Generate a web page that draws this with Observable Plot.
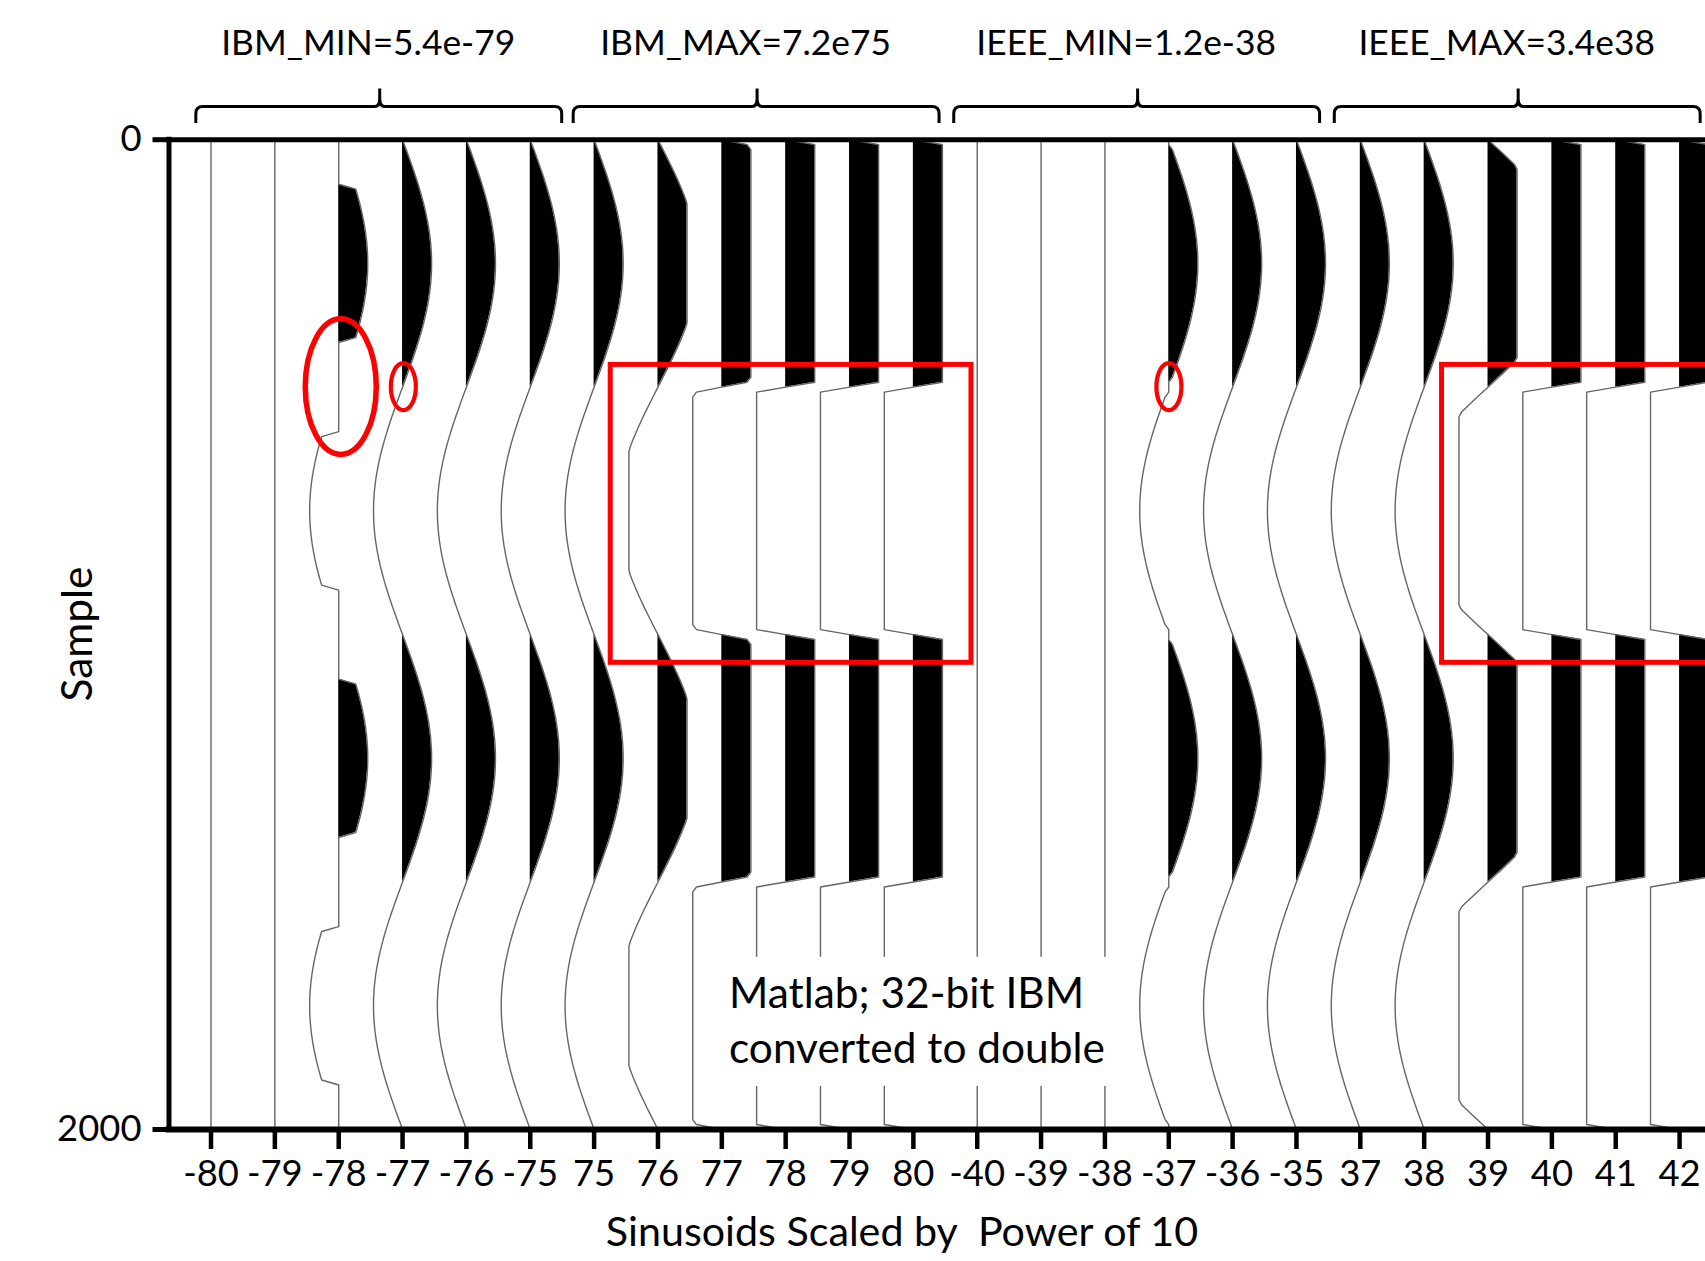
<!DOCTYPE html>
<html>
<head>
<meta charset="utf-8">
<script src="https://cdn.jsdelivr.net/npm/d3@7"></script>
<script src="https://cdn.jsdelivr.net/npm/@observablehq/plot@0.6"></script>
<style>
  html, body { margin: 0; padding: 0; background: #fff; overflow: hidden; }
</style>
</head>
<body>
<div id="chart"></div>
<script>
// ---------------- DATA ----------------
const tickLabels = ["-80","-79","-78","-77","-76","-75","75","76","77","78","79","80",
                    "-40","-39","-38","-37","-36","-35","37","38","39","40","41","42"];
const exponents = [-80,-79,-78,-77,-76,-75,75,76,77,78,79,80,
                   -40,-39,-38,-37,-36,-35,37,38,39,40,41,42];
const groupLabels = ["IBM_MIN=5.4e-79","IBM_MAX=7.2e75","IEEE_MIN=1.2e-38","IEEE_MAX=3.4e38"];
const groupLimits = [5.4e-79, 7.2e75, 1.2e-38, 3.4e38];
const groupLimitKinds = ["min","max","min","max"];
const tracesPerGroup = 6;
const sampleStep = 10;
// unit sinusoid read along the sample axis (two periods over 0..2000, every 10 samples)
const sineWave = [
  0,0.0628,0.1253,0.1874,0.2487,0.309,0.3681,0.4258,0.4818,0.5358,
  0.5878,0.6374,0.6845,0.729,0.7705,0.809,0.8443,0.8763,0.9048,0.9298,
  0.9511,0.9686,0.9823,0.9921,0.998,1,0.998,0.9921,0.9823,0.9686,
  0.9511,0.9298,0.9048,0.8763,0.8443,0.809,0.7705,0.729,0.6845,0.6374,
  0.5878,0.5358,0.4818,0.4258,0.3681,0.309,0.2487,0.1874,0.1253,0.0628,
  0,-0.0628,-0.1253,-0.1874,-0.2487,-0.309,-0.3681,-0.4258,-0.4818,-0.5358,
  -0.5878,-0.6374,-0.6845,-0.729,-0.7705,-0.809,-0.8443,-0.8763,-0.9048,-0.9298,
  -0.9511,-0.9686,-0.9823,-0.9921,-0.998,-1,-0.998,-0.9921,-0.9823,-0.9686,
  -0.9511,-0.9298,-0.9048,-0.8763,-0.8443,-0.809,-0.7705,-0.729,-0.6845,-0.6374,
  -0.5878,-0.5358,-0.4818,-0.4258,-0.3681,-0.309,-0.2487,-0.1874,-0.1253,-0.0628,
  0,0.0628,0.1253,0.1874,0.2487,0.309,0.3681,0.4258,0.4818,0.5358,
  0.5878,0.6374,0.6845,0.729,0.7705,0.809,0.8443,0.8763,0.9048,0.9298,
  0.9511,0.9686,0.9823,0.9921,0.998,1,0.998,0.9921,0.9823,0.9686,
  0.9511,0.9298,0.9048,0.8763,0.8443,0.809,0.7705,0.729,0.6845,0.6374,
  0.5878,0.5358,0.4818,0.4258,0.3681,0.309,0.2487,0.1874,0.1253,0.0628,
  0,-0.0628,-0.1253,-0.1874,-0.2487,-0.309,-0.3681,-0.4258,-0.4818,-0.5358,
  -0.5878,-0.6374,-0.6845,-0.729,-0.7705,-0.809,-0.8443,-0.8763,-0.9048,-0.9298,
  -0.9511,-0.9686,-0.9823,-0.9921,-0.998,-1,-0.998,-0.9921,-0.9823,-0.9686,
  -0.9511,-0.9298,-0.9048,-0.8763,-0.8443,-0.809,-0.7705,-0.729,-0.6845,-0.6374,
  -0.5878,-0.5358,-0.4818,-0.4258,-0.3681,-0.309,-0.2487,-0.1874,-0.1253,-0.0628,
  0
];
const yTickValues = [0, 2000];
const yTickLabels = ["0", "2000"];
const xTitle = "Sinusoids Scaled by  Power of 10";
const yTitle = "Sample";
const noteLines = ["Matlab; 32-bit IBM", "converted to double"];

// ---------------- ANNOTATION LAYOUT (index / sample units) ----------------
const bracketLeft = [-0.23, 5.68, 11.64, 17.60];
const bracketSpan = 5.73, bracketTip = 2.88, labelShift = -0.18;
const redRects = [
  {x1: 6.26, x2: 11.91, y1: 455, y2: 1057},
  {x1: 19.28, x2: 25, y1: 455, y2: 1057}
];
const redEllipses = [
  {cx: 2.04, cy: 500, rx: 0.556, ry: 137, w: 5.5},
  {cx: 3.02, cy: 500, rx: 0.196, ry: 47.5, w: 4.2},
  {cx: 15.01, cy: 500, rx: 0.196, ry: 47.5, w: 4.2}
];
const noteBox = {x1: 7.745, x2: 14.28, y1: 1652, y2: 1913, tx: 8.12, ty: [1755.5, 1866.6]};

// ---------------- BUILD TRACES ----------------
const amp = 0.455;
const rows = [];
exponents.forEach((e, i) => {
  const g = Math.floor(i / tracesPerGroup);
  const lim = groupLimits[g], kind = groupLimitKinds[g];
  const s = Math.pow(10, e);
  const vals = sineWave.map(w => {
    let v = w * s;
    if (kind === "min" && Math.abs(v) < lim) v = 0;
    if (kind === "max" && Math.abs(v) > lim) v = Math.sign(v) * lim;
    return v;
  });
  const peak = d3.max(vals, v => Math.abs(v));
  vals.forEach((v, k) => {
    const n = peak > 0 ? v / peak : 0;
    rows.push({trace: i, sample: k * sampleStep, base: i, x: i + amp * n, pos: i + amp * Math.max(n, 0)});
  });
});

// ---------------- FONTS ----------------
const FONT = "Lato";
const ctx = document.createElement("canvas").getContext("2d");
function fit(text, target) {
  ctx.font = `100px ${FONT}`;
  return 100 * target / ctx.measureText(text).width;
}
const groupFs = fit(groupLabels[0], 294);
const tickFs = groupFs * 1.03;
const xTitleFs = fit(xTitle, 595);
const yTitleFs = fit(yTitle, 135);
const noteFs = fit(noteLines[1], 376);

const W = 1705, H = 1261, MT = 139.2, MB = 132, ML = 168.5;
const xDomain = [-0.658, 23.406];
const xTicks = exponents.map((_, i) => i);

function annotations(index, scales) {
  const {x, y} = scales;
  const g = d3.create("svg:g");
  // white note box + text
  g.append("rect")
    .attr("x", x(noteBox.x1)).attr("y", y(noteBox.y1))
    .attr("width", x(noteBox.x2) - x(noteBox.x1)).attr("height", y(noteBox.y2) - y(noteBox.y1))
    .attr("fill", "white");
  noteLines.forEach((t, j) => {
    g.append("text").attr("x", x(noteBox.tx)).attr("y", y(noteBox.ty[j]))
      .attr("text-anchor", "start")
      .attr("font-family", FONT).attr("font-size", noteFs).attr("fill", "black")
      .style("white-space", "pre").text(t);
  });
  // brackets + group labels
  bracketLeft.forEach((L, gi) => {
    const xl = x(L), xr = x(L + bracketSpan), xt = x(L + bracketTip);
    const yb = 123, yh = 106.5, yt = 88.5;
    const d = `M${xl},${yb} V${yh + 7} Q${xl},${yh} ${xl + 7},${yh} H${xt - 5} Q${xt},${yh} ${xt},${yh - 8} V${yt}` +
              ` M${xt},${yh - 8} Q${xt},${yh} ${xt + 5},${yh} H${xr - 7} Q${xr},${yh} ${xr},${yh + 7} V${yb}`;
    g.append("path").attr("d", d).attr("fill", "none").attr("stroke", "black")
      .attr("stroke-width", 3).attr("stroke-linejoin", "round");
    g.append("text").attr("x", x(L + bracketTip + labelShift)).attr("y", 55)
      .attr("text-anchor", "middle").attr("font-family", FONT).attr("font-size", groupFs)
      .attr("fill", "black").text(groupLabels[gi]);
  });
  // red annotations
  redRects.forEach(r => {
    g.append("rect").attr("x", x(r.x1)).attr("y", y(r.y1))
      .attr("width", x(r.x2) - x(r.x1)).attr("height", y(r.y2) - y(r.y1))
      .attr("fill", "none").attr("stroke", "#ff0000").attr("stroke-width", 5);
  });
  redEllipses.forEach(e => {
    g.append("ellipse").attr("cx", x(e.cx)).attr("cy", y(e.cy))
      .attr("rx", x(e.cx + e.rx) - x(e.cx)).attr("ry", y(e.cy + e.ry) - y(e.cy))
      .attr("fill", "none").attr("stroke", "#ff0000").attr("stroke-width", e.w);
  });
  // axis titles
  g.append("text").attr("x", 902).attr("y", 1245.6).attr("text-anchor", "middle")
    .attr("font-family", FONT).attr("font-size", xTitleFs).attr("fill", "black")
    .style("white-space", "pre").text(xTitle);
  g.append("text").attr("transform", `translate(91.7,634) rotate(-90)`).attr("text-anchor", "middle")
    .attr("font-family", FONT).attr("font-size", yTitleFs).attr("fill", "black").text(yTitle);
  return g.node();
}

const chart = Plot.plot({
  width: W, height: H,
  marginTop: MT, marginBottom: MB, marginLeft: ML, marginRight: 0,
  x: {type: "linear", domain: xDomain, axis: null},
  y: {domain: [0, 2000], reverse: true, axis: null},
  style: {fontFamily: FONT, background: "white", color: "black", overflow: "hidden"},
  marks: [
    Plot.areaX(rows, {y: "sample", x1: "base", x2: "pos", z: "trace", fill: "black"}),
    Plot.line(rows, {x: "x", y: "sample", z: "trace", stroke: "#666666", strokeWidth: 1.4}),
    Plot.ruleY([0], {stroke: "black", strokeWidth: 5, strokeLinecap: "square"}),
    Plot.ruleY([2000], {stroke: "black", strokeWidth: 6, strokeLinecap: "square"}),
    Plot.ruleX([xDomain[0]], {stroke: "black", strokeWidth: 5, strokeLinecap: "square"}),
    Plot.axisX(xTicks, {anchor: "bottom", tickSize: 20, tickPadding: 1185 - (H - MB) - 20 - 0.71 * tickFs,
      tickFormat: i => tickLabels[i], strokeWidth: 4.5, fontSize: tickFs, label: null}),
    Plot.axisY(yTickValues, {anchor: "left", tickSize: 16, tickPadding: 11.5,
      tickFormat: (d, i) => yTickLabels[yTickValues.indexOf(d)], strokeWidth: 5, fontSize: tickFs, label: null}),
    annotations
  ]
});
document.getElementById("chart").appendChild(chart);
</script>
</body>
</html>
